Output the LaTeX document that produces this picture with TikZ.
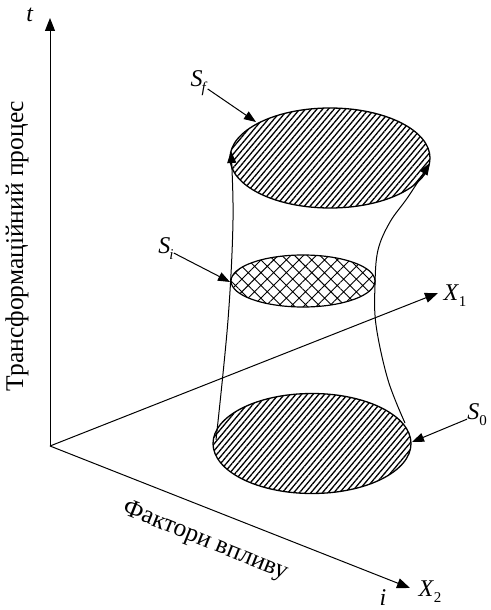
\documentclass[tikz,border=0pt]{standalone}
\usepackage{fontspec}
\setmainfont{Liberation Serif}
\usetikzlibrary{arrows.meta,patterns.meta}
\begin{document}
\begin{tikzpicture}[x=1pt,y=-1pt,
  arr/.style={-{Triangle[length=12pt,width=9pt]}, line width=1pt},
  axis/.style={-{Triangle[length=13pt,width=10pt]}, line width=1pt},
  lbl/.style={inner sep=0pt, font=\fontsize{24}{28}\selectfont},
  big/.style={inner sep=0pt, font=\fontsize{25.5}{28}\selectfont},
  hatched/.style={line width=1.3pt, preaction={fill=white},
    pattern={Lines[angle=50,distance=4.4pt,line width=1.3pt]}},
  crossed/.style={line width=1.2pt, preaction={fill=white},
    pattern={Hatch[angle=45,distance=9pt,line width=0.9pt]}}]
\useasboundingbox (0,0) rectangle (490,610);
% axes
\coordinate (O) at (50,446);
\coordinate (T) at (50,18);
\coordinate (A1) at (438,293);
\coordinate (A2) at (410,588);
\draw[axis] (O) -- (T);
\draw[axis] (O) -- (A1);
\draw[axis] (O) -- (A2);
\node[lbl] (tl) at (30,15) {\textit{t}};
\node[lbl] (il) at (383,598) {\textit{i}};
\node[lbl] (x1) at (455,296) {\textit{X}\raisebox{-6pt}{\fontsize{15}{16}\selectfont 1}};
\node[lbl] (x2) at (430,592) {\textit{X}\raisebox{-6pt}{\fontsize{15}{16}\selectfont 2}};
\node[big, rotate=90] (tp) at (17,246) {Трансформаційний процес};
\node[big, rotate=-22] (fv) at (205,541) {Фактори впливу};
% ellipses
\draw[hatched] (312,443.5) ellipse [x radius=99, y radius=50];
\draw[crossed] (303,281) ellipse [x radius=72, y radius=26];
\draw[hatched] (330,158) ellipse [x radius=100, y radius=50];
% side curves
\draw[arr] plot[smooth, tension=0.6] coordinates {(216,440) (228,320) (233,220) (231,151)};
\draw[arr] plot[smooth, tension=0.6] coordinates {(405,423) (388,380) (376,325) (375,285) (378,250) (390,222) (408,197) (430,163)};
% labels with arrows
\coordinate (sfT) at (256,122);
\coordinate (siT) at (230,282);
\coordinate (s0T) at (412,442);
\node[lbl] (Sf) at (199,83) {\textit{S}\kern-1pt\raisebox{-6pt}{\fontsize{15}{16}\selectfont\textit{f}}};
\node[lbl] (Si) at (166,249) {\textit{S}\kern-1pt\raisebox{-6pt}{\fontsize{15}{16}\selectfont\textit{i}}};
\node[lbl] (S0) at (477,415) {\textit{S}\raisebox{-6pt}{\fontsize{15}{16}\selectfont 0}};
\draw[arr] (Sf) -- (sfT);
\draw[arr] (Si) -- (siT);
\draw[arr] (S0) -- (s0T);
\end{tikzpicture}
\end{document}
